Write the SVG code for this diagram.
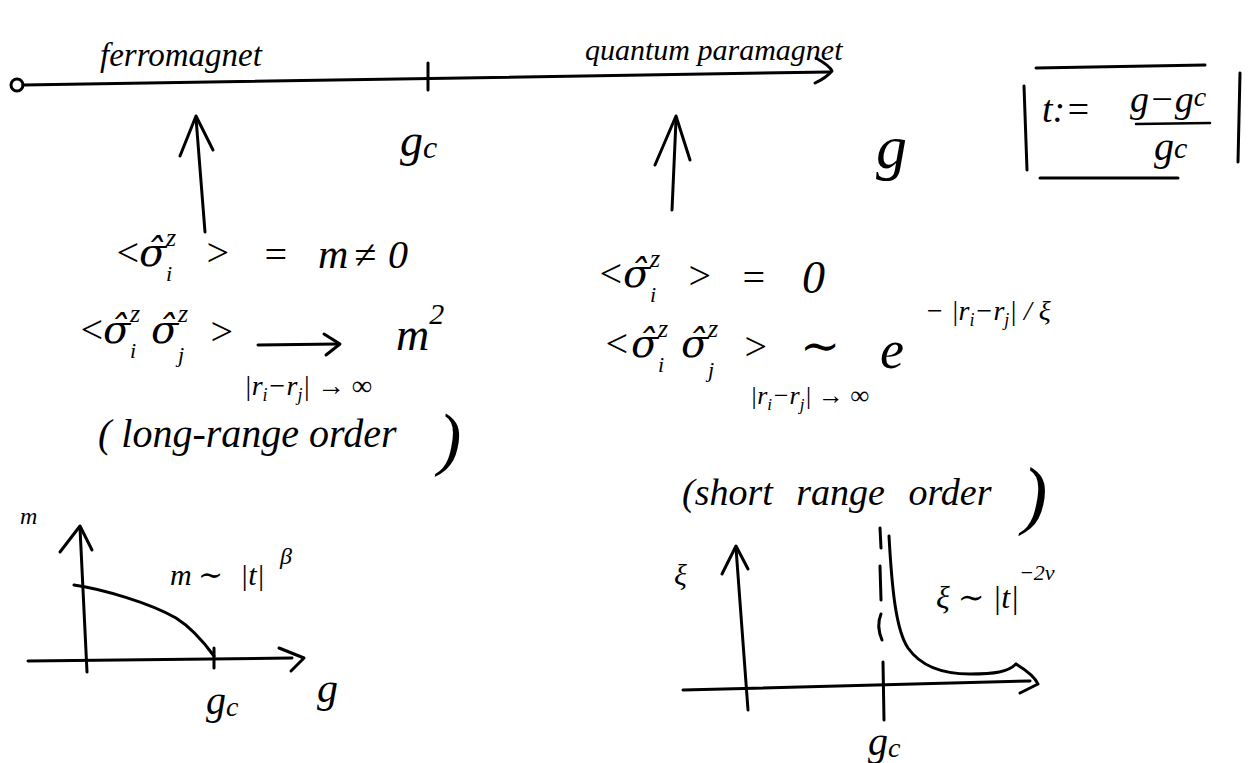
<svg xmlns="http://www.w3.org/2000/svg" width="1256" height="763" viewBox="0 0 1256 763">
<style>
.ln{fill:none;stroke:#000;stroke-width:3;stroke-linecap:round;stroke-linejoin:round}
.tx{font-family:"Liberation Serif","DejaVu Serif",serif;font-style:italic;fill:#000}
.sg{font-family:"DejaVu Serif","Liberation Serif",serif;font-style:italic;font-size:40px}
</style>
<rect width="1256" height="763" fill="#fff"/>

<g id="phase-axis">
  <circle cx="17" cy="85" r="6" class="ln"/>
  <path class="ln" d="M23,85 L830,72"/>
  <path class="ln" d="M816,58 Q830,66 832,71 Q826,78 815,83"/>
  <path class="ln" d="M428,63 L428,90"/>
  <text class="tx" x="100" y="66" font-size="33">ferromagnet</text>
  <text class="tx" x="585" y="60" font-size="30">quantum paramagnet</text>
  <text class="tx" x="400" y="156" font-size="46">g<tspan font-size="32" dy="2">c</tspan></text>
  <text class="tx" x="876" y="168" font-size="62">g</text>
</g>

<g id="t-definition">
  <path class="ln" d="M1024,86 L1027,170"/>
  <path class="ln" d="M1240,73 L1238,162"/>
  <path class="ln" d="M1036,68 L1205,65"/>
  <path class="ln" d="M1040,178 L1178,178"/>
  <text class="tx" x="1042" y="122" font-size="38">t:=</text>
  <text class="tx" x="1130" y="112" font-size="38">g−g<tspan font-size="28" dy="-6">c</tspan></text>
  <path class="ln" d="M1136,124 L1210,123" style="stroke-width:2.5"/>
  <text class="tx" x="1154" y="160" font-size="40">g<tspan font-size="30" dy="-2">c</tspan></text>
</g>

<g id="connectors">
  <path class="ln" d="M205,232 L196,118"/>
  <path class="ln" d="M180,156 L196,116 L213,150"/>
  <path class="ln" d="M672,210 L676,120"/>
  <path class="ln" d="M655,165 L676,116 L690,160"/>
</g>

<g id="ferro-props">
  <text class="tx" font-size="40" x="114" y="266">&lt;<tspan class="sg" x="139" y="266">σ̂</tspan><tspan x="166" y="281" font-size="22">i</tspan><tspan x="166" y="246" font-size="26">z</tspan><tspan x="204" y="266">&gt;</tspan><tspan x="262" y="268">=</tspan><tspan x="318" y="268" font-size="42">m</tspan><tspan x="354" y="268">≠</tspan><tspan x="388" y="268">0</tspan></text>
  <text class="tx" font-size="40" x="78" y="343">&lt;<tspan class="sg" x="103" y="343">σ̂</tspan><tspan x="130" y="358" font-size="22">i</tspan><tspan x="130" y="322" font-size="26">z</tspan><tspan class="sg" x="151" y="343">σ̂</tspan><tspan x="178" y="362" font-size="22">j</tspan><tspan x="178" y="322" font-size="26">z</tspan><tspan x="208" y="345">&gt;</tspan></text>
  <path class="ln" d="M258,345 L338,344"/>
  <path class="ln" d="M324,334 L340,344 L326,355"/>
  <text class="tx" x="396" y="350" font-size="46">m<tspan dy="-26" font-size="30">2</tspan></text>
  <text class="tx" x="244" y="395" font-size="28">|r<tspan font-size="18" dy="6">i</tspan><tspan dy="-6">−r</tspan><tspan font-size="18" dy="6">j</tspan><tspan dy="-6">| → ∞</tspan></text>
  <text class="tx" x="98" y="447" font-size="40">( long-range order</text>
  <text class="tx" x="438" y="462" font-size="70">)</text>
</g>

<g id="para-props">
  <text class="tx" font-size="40" x="597" y="287">&lt;<tspan class="sg" x="623" y="287">σ̂</tspan><tspan x="650" y="302" font-size="22">i</tspan><tspan x="650" y="267" font-size="26">z</tspan><tspan x="686" y="289">&gt;</tspan><tspan x="740" y="291">=</tspan><tspan x="802" y="293" font-size="46">0</tspan></text>
  <text class="tx" font-size="40" x="603" y="357">&lt;<tspan class="sg" x="631" y="357">σ̂</tspan><tspan x="658" y="372" font-size="22">i</tspan><tspan x="658" y="337" font-size="26">z</tspan><tspan class="sg" x="681" y="357">σ̂</tspan><tspan x="708" y="377" font-size="22">j</tspan><tspan x="708" y="337" font-size="26">z</tspan><tspan x="742" y="360">&gt;</tspan><tspan x="800" y="362" font-size="48">∼</tspan></text>
  <text class="tx" x="880" y="368" font-size="54">e</text>
  <text class="tx" x="925" y="320" font-size="28">− |r<tspan font-size="18" dy="6">i</tspan><tspan dy="-6">−r</tspan><tspan font-size="18" dy="6">j</tspan><tspan dy="-6">| / ξ</tspan></text>
  <text class="tx" x="750" y="404" font-size="26">|r<tspan font-size="17" dy="6">i</tspan><tspan dy="-6">−r</tspan><tspan font-size="17" dy="6">j</tspan><tspan dy="-6">| → ∞</tspan></text>
  <text class="tx" x="682" y="505" font-size="38" word-spacing="14">(short range order</text>
  <text class="tx" x="1022" y="520" font-size="76">)</text>
</g>

<g id="m-plot">
  <path class="ln" d="M87,672 L80,528"/>
  <path class="ln" d="M60,552 L80,526 L92,550"/>
  <path class="ln" d="M28,661 L292,658"/>
  <path class="ln" d="M279,648 L304,658 L291,671"/>
  <path class="ln" d="M214,648 L214,668"/>
  <path class="ln" d="M74,585 C102,589 150,603 176,618 C192,628 203,641 214,656"/>
  <text class="tx" x="20" y="524" font-size="24">m</text>
  <text class="tx" x="170" y="585" font-size="30">m<tspan x="198">∼</tspan><tspan x="240">|t|</tspan><tspan x="280" y="564" font-size="24">β</tspan></text>
  <text class="tx" x="206" y="714" font-size="40">g<tspan font-size="28" dy="2">c</tspan></text>
  <text class="tx" x="317" y="702" font-size="42">g</text>
</g>

<g id="xi-plot">
  <path class="ln" d="M748,710 L736,548"/>
  <path class="ln" d="M722,574 L736,546 L748,569"/>
  <path class="ln" d="M683,690 L1030,681"/>
  <path class="ln" d="M1016,664 Q1034,675 1038,684 L1020,693"/>
  <path class="ln" d="M880,528 L881,548"/>
  <path class="ln" d="M880,566 L881,600"/>
  <path class="ln" d="M881,614 Q876,626 882,640"/>
  <path class="ln" d="M883,662 L884,720"/>
  <path class="ln" d="M889,536 C892,590 896,630 908,648 C922,668 945,674 970,674 C995,674 1008,672 1016,664"/>
  <text class="tx" x="674" y="585" font-size="30">ξ</text>
  <text class="tx" x="936" y="608" font-size="32">ξ ∼ |t|<tspan dy="-28" font-size="22">−2ν</tspan></text>
  <text class="tx" x="868" y="755" font-size="40">g<tspan font-size="28" dy="2">c</tspan></text>
</g>
</svg>
